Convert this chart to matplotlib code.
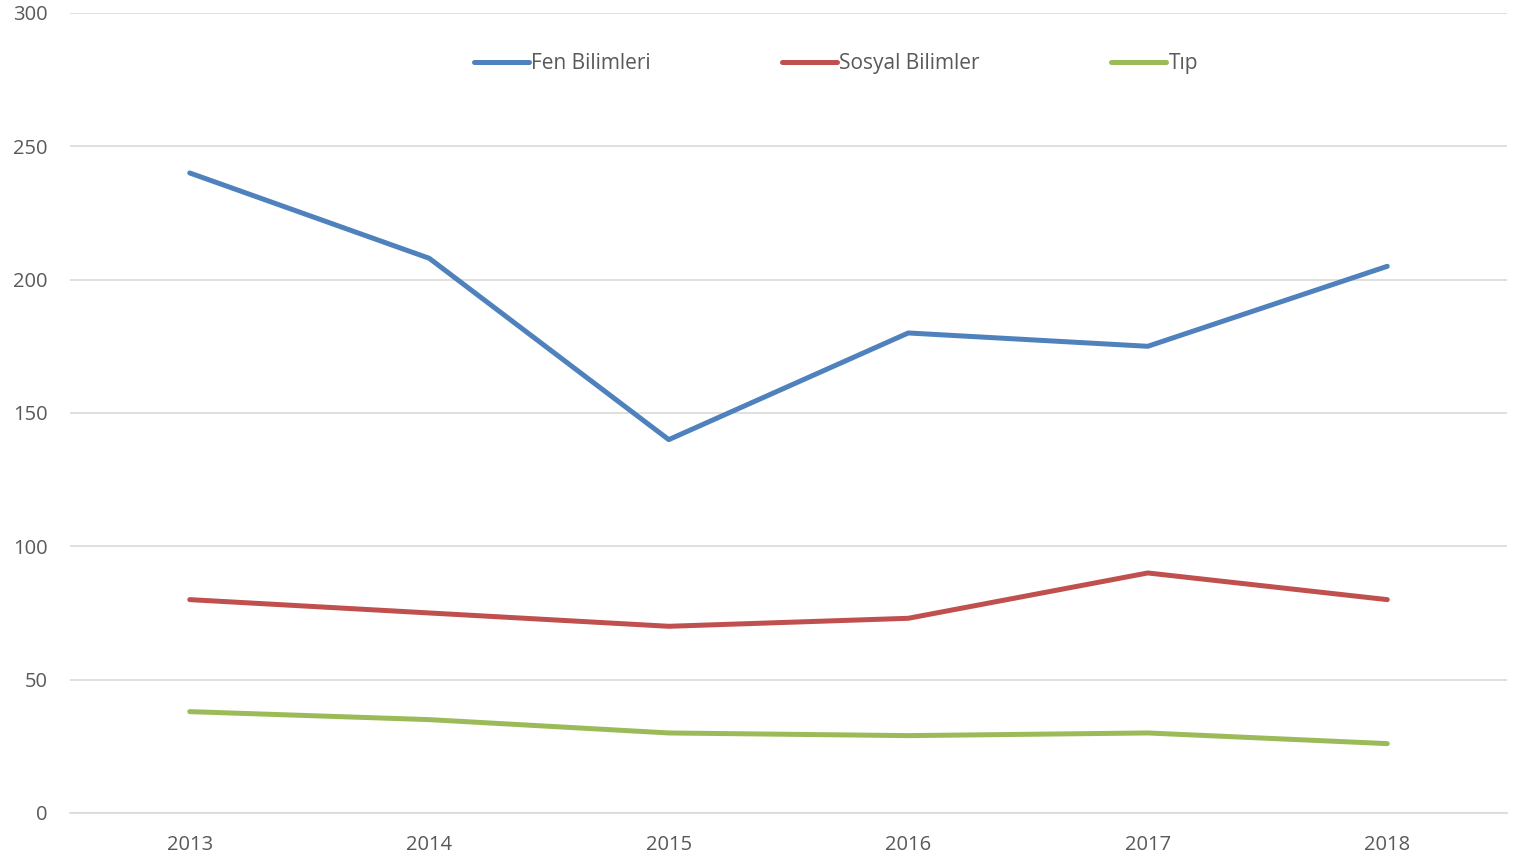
import matplotlib

matplotlib.use("Agg")
import matplotlib.pyplot as plt

years = ["2013", "2014", "2015", "2016", "2017", "2018"]
fen = [240, 208, 140, 180, 175, 205]
sosyal = [80, 75, 70, 73, 90, 80]
tip = [38, 35, 30, 29, 30, 26]

series_names = ["Fen Bilimleri", "Sosyal Bilimler", "Tıp"]
colors = ["#4F81BD", "#C0504D", "#9BBB59"]

plt.rcParams["font.family"] = ["Open Sans", "DejaVu Sans"]

fig = plt.figure(figsize=(15.25, 8.59), dpi=100)
ax = fig.add_axes([0.0459, 0.0536, 0.9423, 0.9313])

x = range(len(years))
for vals, name, c in zip([fen, sosyal, tip], series_names, colors):
    ax.plot(x, vals, color=c, linewidth=3.6, label=name,
            solid_capstyle="round", solid_joinstyle="round", zorder=3)

ax.set_xlim(-0.5, len(years) - 0.5)
ax.set_ylim(0, 300)
ax.set_yticks(range(0, 301, 50))
ax.set_xticks(list(x))
ax.set_xticklabels(years)

ax.grid(axis="y", color="#D9D9D9", linewidth=1.2, zorder=0)
for side in ("left", "right", "top"):
    ax.spines[side].set_visible(False)
ax.spines["bottom"].set_color("#D9D9D9")
ax.spines["bottom"].set_linewidth(1.2)
ax.tick_params(axis="both", length=0, labelsize=14.5, colors="#595959")
ax.tick_params(axis="y", pad=16)
ax.tick_params(axis="x", pad=16)

leg = ax.legend(loc="center", bbox_to_anchor=(0.533, 0.937), ncol=3,
                frameon=False, fontsize=15, handlelength=2.65,
                handletextpad=0.1, columnspacing=6.3)
for t in leg.get_texts():
    t.set_color("#595959")

fig.savefig("out.png", dpi=100, facecolor="white")
